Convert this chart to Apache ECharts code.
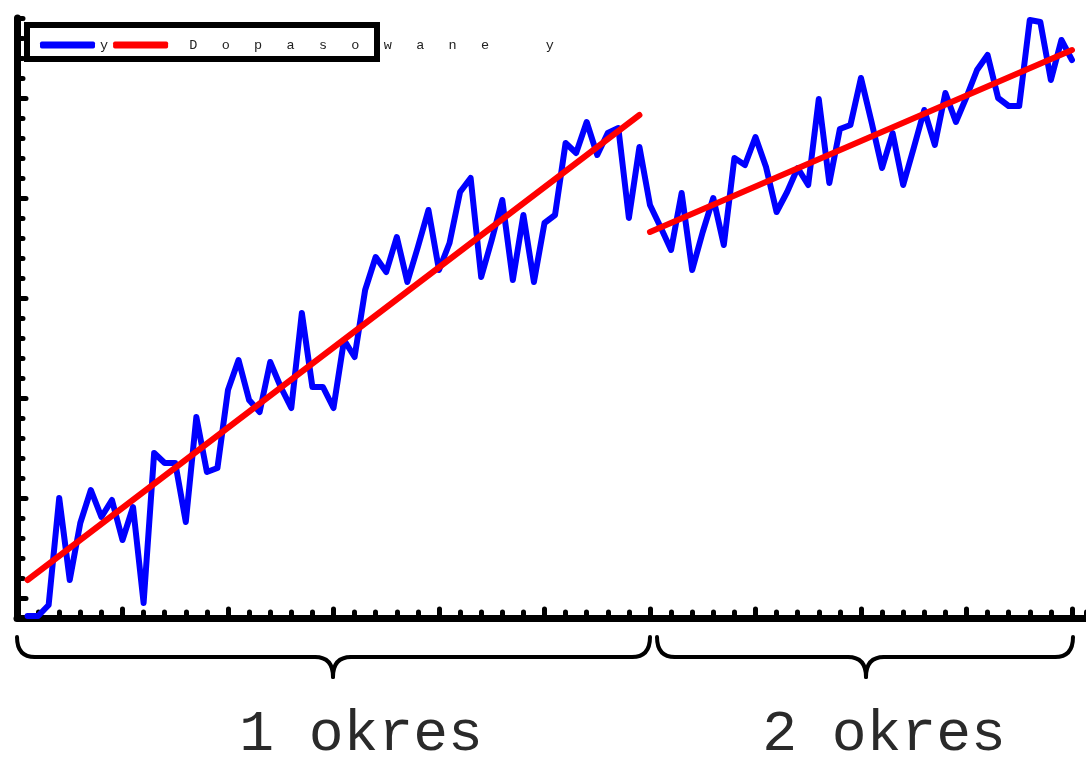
<!DOCTYPE html>
<html><head><meta charset="utf-8">
<script src="https://cdn.jsdelivr.net/npm/echarts@6/dist/echarts.min.js"></script>
<style>html,body{margin:0;padding:0;background:#fff}#c{width:1086px;height:757px}</style>
</head><body><div id="c"></div>
<script>
// ---- data ----
const period1Start = 1;
const period1Y = [0.1,0.1,0.65,6.0,1.9,4.75,6.4,5.05,5.9,3.9,5.55,0.75,8.25,7.75,7.75,4.8,10.05,7.3,7.5,11.4,
  12.9,10.9,10.3,12.8,11.55,10.5,15.25,11.55,11.55,10.5,13.9,13.05,16.4,18.05,17.3,19.05,16.8,18.55,20.4,17.4,
  18.75,21.3,22.0,17.05,18.9,20.9,16.9,20.15,16.8,19.75,20.15,23.75,23.25,24.8,23.15,24.25,24.5,20.0,23.55];
const period2Start = 60;
const period2Y = [20.65,19.55,18.4,21.25,17.4,19.3,21.0,18.65,23.0,22.65,
  24.05,22.55,20.3,21.3,22.5,21.65,25.95,21.75,24.45,24.65,
  27.0,24.8,22.5,24.25,21.65,23.5,25.4,23.65,26.25,24.8,
  26.05,27.4,28.15,26.0,25.6,25.6,29.9,29.8,26.9,28.9,27.9];
const fit1X = [1, 59];
const fit1Y = [1.9, 25.15];
const fit2X = [60, 100];
const fit2Y = [19.3, 28.4];
const seriesNames = ['y', 'Dopasowane y'];
const periodLabels = ['1 okres', '2 okres'];

// ---- build ----
const blueData = period1Y.map((v, i) => [period1Start + i, v])
  .concat(period2Y.map((v, i) => [period2Start + i, v]));
const fit1 = fit1X.map((x, i) => [x, fit1Y[i]]);
const fit2 = fit2X.map((x, i) => [x, fit2Y[i]]);

const chart = echarts.init(document.getElementById('c'));
const tickStyle = {color: '#000', width: 5, cap: 'round'};
const axisLineStyle = {color: '#000', width: 7};
const hidden = {show: false};
const FONT = "'Liberation Mono', 'DejaVu Sans Mono', monospace";
const braceStyle = {fill: null, stroke: '#000', lineWidth: 4, lineCap: 'round'};

function brace(x0, x1, xm, yTop, yMid, yTip, r) {
  const q = (a, b, c, d, e, f) => ({type: 'bezierCurve', z: 100,
    shape: {x1: a, y1: b, cpx1: c, cpy1: d, x2: e, y2: f}, style: braceStyle});
  const l = (a, b, c, d) => ({type: 'line', z: 100,
    shape: {x1: a, y1: b, x2: c, y2: d}, style: braceStyle});
  return [
    q(x0, yTop, x0, yMid, x0 + r, yMid),
    l(x0 + r, yMid, xm - r, yMid),
    q(xm - r, yMid, xm, yMid, xm, yTip),
    q(xm, yTip, xm, yMid, xm + r, yMid),
    l(xm + r, yMid, x1 - r, yMid),
    q(x1 - r, yMid, x1, yMid, x1, yTop)
  ];
}

chart.setOption({
  animation: false,
  backgroundColor: '#fff',
  grid: [
    {left: 17, right: 0, top: 18, bottom: 139},
    {left: 17, right: 14, top: 98, bottom: 159},
    {left: 17, right: 14, top: 18, bottom: 139}
  ],
  xAxis: [
    {gridIndex: 0, type: 'value', min: 0, max: 101.33, interval: 2,
      axisLine: {show: true, onZero: false, lineStyle: axisLineStyle},
      axisTick: {show: true, inside: true, length: 6, lineStyle: tickStyle},
      axisLabel: hidden, splitLine: hidden},
    {gridIndex: 1, type: 'value', min: 0, max: 100, show: false},
    {gridIndex: 2, type: 'value', min: 0, max: 100, interval: 10,
      axisLine: hidden,
      axisTick: {show: true, inside: true, length: 9, lineStyle: tickStyle},
      axisLabel: hidden, splitLine: hidden}
  ],
  yAxis: [
    {gridIndex: 0, type: 'value', min: 0, max: 30, interval: 1,
      axisLine: {show: true, onZero: false, lineStyle: axisLineStyle},
      axisTick: {show: true, inside: true, length: 6, lineStyle: tickStyle},
      axisLabel: hidden, splitLine: hidden},
    {gridIndex: 1, type: 'value', min: 0, max: 25, interval: 5,
      axisLine: hidden,
      axisTick: {show: true, inside: true, length: 9, lineStyle: tickStyle},
      axisLabel: hidden, splitLine: hidden},
    {gridIndex: 2, type: 'value', min: 0, max: 30, show: false}
  ],
  legend: {
    data: seriesNames,
    left: 40, top: 38, padding: 0, itemGap: 5,
    itemWidth: 55, itemHeight: 7, icon: 'roundRect',
    textStyle: {fontFamily: FONT, fontSize: 13.5, color: '#222'},
    formatter: n => n.length > 1 ? '  ' + n.split('').join('   ') : n
  },
  series: [
    {name: seriesNames[0], type: 'line', xAxisIndex: 0, yAxisIndex: 0, data: blueData,
      showSymbol: false, symbol: 'none', clip: false,
      lineStyle: {color: '#0000ff', width: 6, join: 'round', cap: 'round'},
      itemStyle: {color: '#0000ff'}},
    {name: seriesNames[1], type: 'line', xAxisIndex: 0, yAxisIndex: 0, data: fit1,
      showSymbol: false, symbol: 'none', clip: false,
      lineStyle: {color: '#ff0000', width: 6, cap: 'round'},
      itemStyle: {color: '#ff0000'}},
    {name: seriesNames[1], type: 'line', xAxisIndex: 0, yAxisIndex: 0, data: fit2,
      showSymbol: false, symbol: 'none', clip: false,
      lineStyle: {color: '#ff0000', width: 6, cap: 'round'},
      itemStyle: {color: '#ff0000'}}
  ],
  graphic: [
    {type: 'rect', z: 100, shape: {x: 27, y: 25, width: 350, height: 34},
      style: {fill: null, stroke: '#000', lineWidth: 6}}
  ].concat(brace(17, 650, 333, 637, 657, 677, 18))
   .concat(brace(657, 1073, 866, 637, 657, 677, 18))
   .concat([
    {type: 'text', z: 100, x: 361, y: 735,
      style: {text: periodLabels[0], font: '58px ' + FONT, fill: '#2a2a2a', align: 'center', verticalAlign: 'middle'}},
    {type: 'text', z: 100, x: 884, y: 735,
      style: {text: periodLabels[1], font: '58px ' + FONT, fill: '#2a2a2a', align: 'center', verticalAlign: 'middle'}}
  ])
});
</script>
</body></html>
